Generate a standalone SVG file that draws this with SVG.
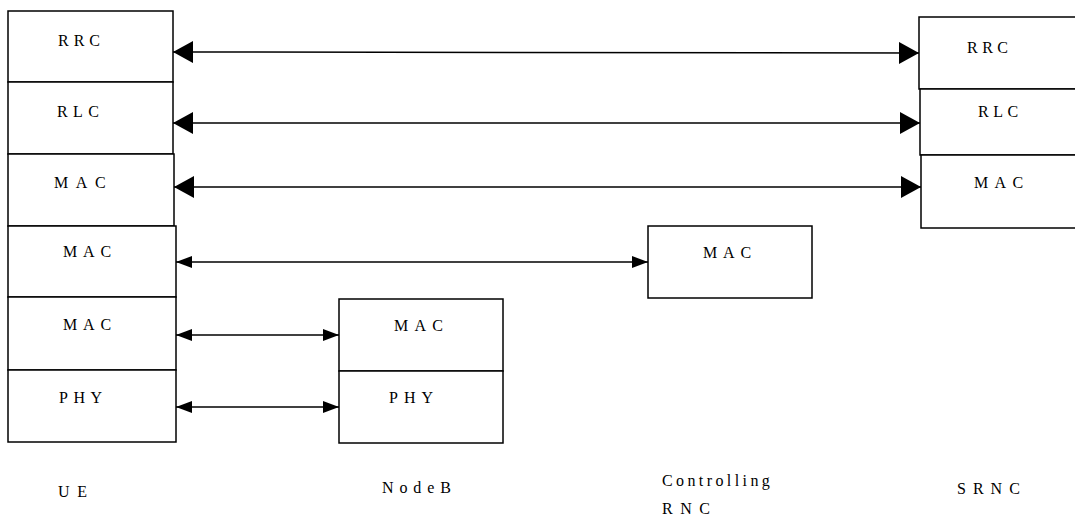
<svg xmlns="http://www.w3.org/2000/svg" width="1075" height="515" viewBox="0 0 1075 515">
<style>
.box{fill:#fff;stroke:#000;stroke-width:1.5}
.lbl{font-family:"Liberation Serif","Times New Roman",serif;font-size:16px;fill:#000}
.cap{font-family:"Liberation Serif","Times New Roman",serif;font-size:16px;fill:#000}
.ln{stroke:#000;stroke-width:1.5;fill:none}
.big{marker-start:url(#ab);marker-end:url(#ab)}
.sml{marker-start:url(#as);marker-end:url(#as)}
</style>
<defs>
<marker id="ab" markerUnits="userSpaceOnUse" markerWidth="20" markerHeight="22" refX="20" refY="11" orient="auto-start-reverse" viewBox="0 0 20 22">
<path d="M0,0 L20,11 L0,22 z" fill="#000"/>
</marker>
<marker id="as" markerUnits="userSpaceOnUse" markerWidth="16" markerHeight="12" refX="16" refY="6" orient="auto-start-reverse" viewBox="0 0 16 12">
<path d="M0,0 L16,6 L0,12 z" fill="#000"/>
</marker>
</defs>
<rect width="1075" height="515" fill="#fff"/>
<g id="ue">
<g id="ue-rrc"><rect class="box" x="8" y="11" width="165" height="71"/><text class="lbl" x="58" y="46" letter-spacing="5">RRC</text></g>
<g id="ue-rlc"><rect class="box" x="8" y="82" width="165" height="72"/><text class="lbl" x="57" y="117" letter-spacing="5.4">RLC</text></g>
<g id="ue-mac1"><rect class="box" x="8" y="154" width="166" height="72"/><text class="lbl" x="54" y="188" letter-spacing="7.6">MAC</text></g>
<g id="ue-mac2"><rect class="box" x="8" y="226" width="168" height="71"/><text class="lbl" x="63" y="257" letter-spacing="5.8">MAC</text></g>
<g id="ue-mac3"><rect class="box" x="8" y="297" width="168" height="73"/><text class="lbl" x="63" y="330" letter-spacing="5.8">MAC</text></g>
<g id="ue-phy"><rect class="box" x="8" y="370" width="168" height="72"/><text class="lbl" x="59" y="403" letter-spacing="5.5">PHY</text></g>
<text class="cap" x="58" y="497" letter-spacing="7.7">UE</text>
</g>
<g id="nodeb">
<g id="nodeb-mac"><rect class="box" x="339" y="299" width="164" height="72"/><text class="lbl" x="394" y="331" letter-spacing="6.2">MAC</text></g>
<g id="nodeb-phy"><rect class="box" x="339" y="371" width="164" height="72"/><text class="lbl" x="389" y="403" letter-spacing="6">PHY</text></g>
<text class="cap" x="382" y="493" letter-spacing="5.9">NodeB</text>
</g>
<g id="crnc">
<g id="crnc-mac"><rect class="box" x="648" y="226" width="164" height="72"/><text class="lbl" x="703" y="258" letter-spacing="5.8">MAC</text></g>
<text class="cap" x="662" y="486" letter-spacing="3.4">Controlling</text>
<text class="cap" x="662" y="514" letter-spacing="7.5">RNC</text>
</g>
<g id="srnc">
<g id="srnc-rrc"><rect class="box" x="919" y="17" width="165" height="72"/><text class="lbl" x="967" y="53" letter-spacing="4.5">RRC</text></g>
<g id="srnc-rlc"><rect class="box" x="920" y="89" width="165" height="66"/><text class="lbl" x="978" y="117" letter-spacing="4.5">RLC</text></g>
<g id="srnc-mac"><rect class="box" x="921" y="155" width="165" height="73"/><text class="lbl" x="974" y="188" letter-spacing="6.3">MAC</text></g>
<text class="cap" x="957" y="494" letter-spacing="7">SRNC</text>
</g>
<g id="connectors">
<line class="ln big" x1="173" y1="52" x2="919" y2="53"/>
<line class="ln big" x1="173" y1="123" x2="920" y2="123"/>
<line class="ln big" x1="174" y1="187" x2="921" y2="187"/>
<line class="ln sml" x1="176" y1="262" x2="648" y2="262"/>
<line class="ln sml" x1="176" y1="335" x2="339" y2="335"/>
<line class="ln sml" x1="176" y1="407" x2="339" y2="407"/>
</g>
</svg>
